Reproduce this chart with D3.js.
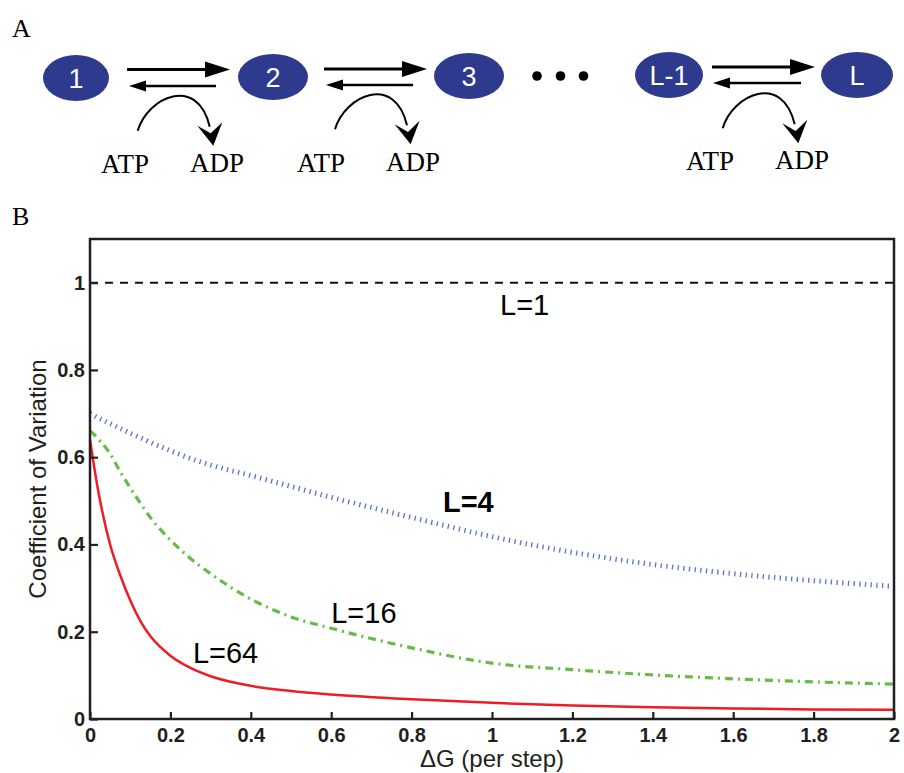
<!DOCTYPE html>
<html>
<head>
<meta charset="utf-8">
<script src="https://cdn.jsdelivr.net/npm/d3@7"></script>
<style>
  body { margin: 0; background: #fff; }
  svg text { font-family: "Liberation Sans", Arial, Helvetica, sans-serif; }
  .serif { font-family: "Liberation Serif", "Times New Roman", serif !important; }
</style>
</head>
<body>
<svg id="fig" width="904" height="773"></svg>
<script>
// ---- chart data ----
const dG = [0, 0.01, 0.02, 0.03, 0.05, 0.075, 0.1, 0.125, 0.15, 0.2, 0.25, 0.3, 0.4, 0.5, 0.6, 0.8, 1.0, 1.2, 1.4, 1.6, 1.8, 2.0];
const cvL4  = [0.70, 0.695, 0.69, 0.686, 0.677, 0.666, 0.655, 0.645, 0.634, 0.615, 0.597, 0.582, 0.558, 0.533, 0.508, 0.462, 0.418, 0.382, 0.354, 0.333, 0.317, 0.304];
const cvL16 = [0.66, 0.652, 0.642, 0.632, 0.608, 0.567, 0.53, 0.495, 0.462, 0.41, 0.368, 0.333, 0.275, 0.234, 0.208, 0.163, 0.128, 0.113, 0.101, 0.092, 0.085, 0.080];
const cvL64 = [0.64, 0.58, 0.525, 0.478, 0.40, 0.33, 0.272, 0.225, 0.19, 0.145, 0.117, 0.098, 0.076, 0.064, 0.056, 0.045, 0.037, 0.031, 0.027, 0.024, 0.022, 0.021];
const l1X = [0, 2];
const cvL1 = [1, 1];

const xTicks = [0, 0.2, 0.4, 0.6, 0.8, 1, 1.2, 1.4, 1.6, 1.8, 2];
const xTickLabels = ['0', '0.2', '0.4', '0.6', '0.8', '1', '1.2', '1.4', '1.6', '1.8', '2'];
const yTicks = [0, 0.2, 0.4, 0.6, 0.8, 1];
const yTickLabels = ['0', '0.2', '0.4', '0.6', '0.8', '1'];

// curve labels: text, x, y (data coords)
const curveLabels = [
  { text: 'L=1',  x: 1.02,  y: 0.925, bold: false },
  { text: 'L=4',  x: 0.878, y: 0.474, bold: true },
  { text: 'L=16', x: 0.60,  y: 0.221, bold: false },
  { text: 'L=64', x: 0.256, y: 0.128, bold: false }
];

// ---- scheme (panel A) ----
const stateNames = ['1', '2', '3', 'L-1', 'L'];
const stateCx = [76, 273, 469, 669, 857];
const stateCy = [78, 77, 76, 75, 75];
const stateRx = [33, 35, 35, 34, 36];

const svg = d3.select('#fig');

// Panel letters
svg.append('text').attr('class', 'serif').attr('x', 12).attr('y', 37)
  .style('font-size', '26px').text('A');
svg.append('text').attr('class', 'serif').attr('x', 12).attr('y', 225)
  .style('font-size', '26px').text('B');

// States
const blue = '#2d3a8e';
stateNames.forEach((s, i) => {
  svg.append('ellipse')
    .attr('cx', stateCx[i]).attr('cy', stateCy[i])
    .attr('rx', stateRx[i]).attr('ry', 23)
    .attr('fill', blue);
  svg.append('text')
    .attr('x', stateCx[i]).attr('y', stateCy[i] + 10)
    .attr('text-anchor', 'middle')
    .attr('fill', '#fff')
    .style('font-size', '27px')
    .text(s);
});

// dots between 3 and L-1
[537, 560.5, 583.5].forEach(x => {
  svg.append('circle').attr('cx', x).attr('cy', 76).attr('r', 4.8).attr('fill', '#000');
});

// reversible arrows between pairs
function pairArrows(x0, x1, yTop, bx0, bx1, yBot) {
  // forward (thick)
  svg.append('line').attr('x1', x0).attr('y1', yTop).attr('x2', x1 - 20).attr('y2', yTop)
    .attr('stroke', '#000').attr('stroke-width', 3.2);
  svg.append('path')
    .attr('d', `M${x1},${yTop} L${x1 - 25},${yTop - 8} L${x1 - 25},${yTop + 8} Z`)
    .attr('fill', '#000');
  // backward
  svg.append('line').attr('x1', bx0).attr('y1', yBot).attr('x2', bx1 + 14).attr('y2', yBot)
    .attr('stroke', '#000').attr('stroke-width', 2.6);
  svg.append('path')
    .attr('d', `M${bx1},${yBot} L${bx1 + 17},${yBot - 5.5} L${bx1 + 17},${yBot + 5.5} Z`)
    .attr('fill', '#000');
}
pairArrows(127, 230, 69.5, 216, 129, 86);
pairArrows(324, 427, 69, 413, 326, 85);
pairArrows(712, 815, 67, 801, 713, 83);

// ATP -> ADP curved arrows
function atpArrow(sx, sy, atpX, adpX, baseY) {
  const g = svg.append('g').attr('transform', `translate(${sx},${sy})`);
  g.append('path')
    .attr('d', 'M0,0 C10,-34 60,-56 72,-4')
    .attr('fill', 'none').attr('stroke', '#000').attr('stroke-width', 2);
  const tx = 75.6, ty = 15;
  g.append('path')
    .attr('d', `M${tx},${ty} L${tx - 16},${ty - 20} L${tx - 2.6},${ty - 12.4} L${tx + 9},${ty - 23.5} Z`)
    .attr('fill', '#000');
  svg.append('text').attr('class', 'serif').attr('x', atpX).attr('y', baseY)
    .style('font-size', '27px').text('ATP');
  svg.append('text').attr('class', 'serif').attr('x', adpX).attr('y', baseY - 1)
    .style('font-size', '27px').text('ADP');
}
atpArrow(137.7, 130.7, 101, 190, 173);
atpArrow(335, 129.3, 297, 386, 172);
atpArrow(722.7, 128.3, 686, 775, 170);

// ---- panel B ----
const margin = { top: 239, right: 10, bottom: 54, left: 90 };
const width = 904, height = 773;

const x = d3.scaleLinear().domain([0, 2]).range([margin.left, width - margin.right]);
const y = d3.scaleLinear().domain([0, 1.1]).range([height - margin.bottom, margin.top]);

const line = d3.line().x(d => x(d[0])).y(d => y(d[1])).curve(d3.curveMonotoneX);

// L=1
svg.append('path')
  .datum(l1X.map((v, i) => [v, cvL1[i]]))
  .attr('d', line)
  .attr('fill', 'none').attr('stroke', '#111').attr('stroke-width', 2)
  .attr('stroke-dasharray', '8,7');

// L=4 (tick-dotted blue)
svg.append('path')
  .datum(dG.map((v, i) => [v, cvL4[i]]))
  .attr('d', line)
  .attr('fill', 'none').attr('stroke', '#5b72c4').attr('stroke-width', 5)
  .attr('stroke-dasharray', '1.3,4.4');

// L=16 (dash-dot green)
svg.append('path')
  .datum(dG.map((v, i) => [v, cvL16[i]]))
  .attr('d', line)
  .attr('fill', 'none').attr('stroke', '#66bb45').attr('stroke-width', 3.2)
  .attr('stroke-dasharray', '8,5,2,5');

// L=64 (solid red)
svg.append('path')
  .datum(dG.map((v, i) => [v, cvL64[i]]))
  .attr('d', line)
  .attr('fill', 'none').attr('stroke', '#ee1c24').attr('stroke-width', 2.5);

// curve labels
svg.selectAll('text.curve')
  .data(curveLabels)
  .enter()
  .append('text')
  .attr('class', 'curve')
  .attr('x', d => x(d.x))
  .attr('y', d => y(d.y))
  .style('font-size', '29px')
  .style('font-weight', d => d.bold ? 'bold' : 'normal')
  .attr('fill', '#000')
  .text(d => d.text);

// Axes
const xAxis = svg.append('g')
  .attr('transform', `translate(0,${height - margin.bottom})`)
  .call(d3.axisBottom(x).tickValues(xTicks).tickSize(-7).tickPadding(9)
    .tickFormat((d, i) => xTickLabels[i]));
const yAxis = svg.append('g')
  .attr('transform', `translate(${margin.left},0)`)
  .call(d3.axisLeft(y).tickValues(yTicks).tickSize(-8).tickPadding(5)
    .tickFormat((d, i) => yTickLabels[i]));

[xAxis, yAxis].forEach(a => {
  a.select('.domain').remove();
  a.selectAll('line').attr('stroke', '#231f20').attr('stroke-width', 2.2);
  a.selectAll('text')
    .attr('fill', '#231f20')
    .style('font-size', '20px')
    .style('font-weight', 'bold')
    .style('font-family', '"Liberation Sans", Arial, Helvetica, sans-serif');
});

// frame
svg.append('rect')
  .attr('x', margin.left).attr('y', margin.top)
  .attr('width', width - margin.right - margin.left)
  .attr('height', height - margin.bottom - margin.top)
  .attr('fill', 'none').attr('stroke', '#231f20').attr('stroke-width', 2.5);

// axis labels
svg.append('text')
  .attr('x', (margin.left + width - margin.right) / 2)
  .attr('y', 767)
  .attr('text-anchor', 'middle')
  .style('font-size', '24px')
  .attr('fill', '#231f20')
  .text('\u0394G (per step)');

svg.append('text')
  .attr('transform', `translate(46,${(margin.top + height - margin.bottom) / 2}) rotate(-90)`)
  .attr('text-anchor', 'middle')
  .style('font-size', '24px')
  .attr('fill', '#231f20')
  .text('Coefficient of Variation');
</script>
</body>
</html>
